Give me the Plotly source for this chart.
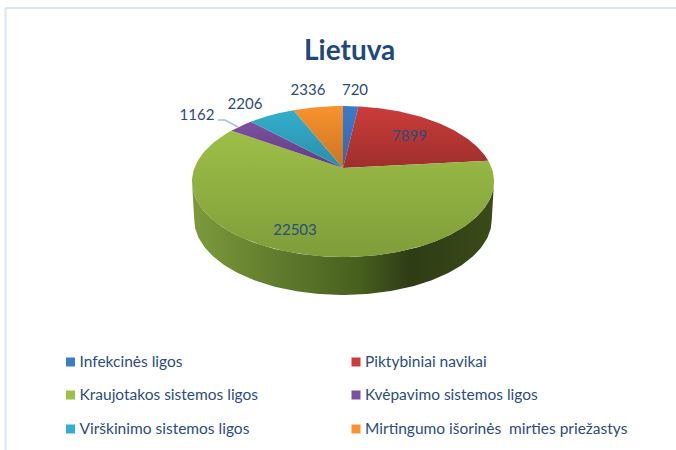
import numpy as np
import plotly.graph_objects as go

categories = ["Infekcinės ligos", "Piktybiniai navikai", "Kraujotakos sistemos ligos",
              "Kvėpavimo sistemos ligos", "Virškinimo sistemos ligos",
              "Mirtingumo išorinės  mirties priežastys"]
values = [720, 7899, 22503, 1162, 2206, 2336]

# style
top_light = ["#3c7bc9", "#cb3d3a", "#9dbf48", "#7d509f", "#33aecd", "#f8932e"]
top_dark = ["#2f67ad", "#9f2e2c", "#7f9d39", "#5f3d80", "#2a8ea8", "#cc7322"]
side_scale = [[0, "#7c9a3c"], [0.3, "#5f7a2c"], [0.55, "#47601f"], [0.72, "#2e3c14"], [1, "#3a4b18"]]
text_color = "#2b4c7e"

CX, CY, RX, RY, K, DEPTH = 343, 168, 148.6, 73.1, 0.179, 38


def project(angle_deg, r=1.0, drop=0.0, xs=1.0):
    a = np.radians(angle_deg)
    u, v = r * np.sin(a), r * np.cos(a)
    w = 1 + K * v
    return CX + xs * RX * u / w, CY - RY * v / w + drop


edges = np.concatenate([[0], np.cumsum(values) / sum(values) * 360])
fig = go.Figure()

# side wall: only the front arc, between the two silhouette angles of the perspective ellipse
front_start = np.degrees(np.arccos(-K))
front_end = 360 - front_start
for i in range(len(values)):
    lo, hi = max(edges[i], front_start), min(edges[i + 1], front_end)
    if lo >= hi:
        continue
    a = np.linspace(lo, hi, 160)
    x0, y0 = project(a)
    x1, y1 = project(a[::-1], drop=DEPTH, xs=0.985)
    fig.add_trace(go.Scatter(
        x=np.r_[x0, x1, x0[0]], y=np.r_[y0, y1, y0[0]], mode="lines", fill="toself",
        line=dict(width=0), hoverinfo="skip", showlegend=False,
        fillgradient=dict(type="horizontal", colorscale=side_scale, start=192, stop=495)))

# top face
for i in range(len(values)):
    a = np.linspace(edges[i], edges[i + 1], 120)
    x, y = project(a)
    xs = np.r_[CX, x, CX]
    ys = np.r_[CY, y, CY]
    fig.add_trace(go.Scatter(
        x=xs, y=ys, mode="lines", fill="toself", line=dict(width=0),
        hoverinfo="skip", showlegend=False,
        fillgradient=dict(type="vertical",
                          colorscale=[[0, top_light[i]], [1, top_dark[i]]],
                          start=ys.min(), stop=ys.max())))

# value labels
label_x = [355, 409.5, 295, 197, 245, 308]
label_y = [91, 137, 231, 116, 105, 91]
fig.add_trace(go.Scatter(x=label_x, y=label_y, mode="text", text=[str(v) for v in values],
                         textposition="middle center", hoverinfo="skip", showlegend=False,
                         textfont=dict(family="Lato", size=15, color=text_color)))

# legend
legend_x = [70.5, 356, 70.5, 356, 70.5, 356]
legend_y = [362, 362, 395, 395, 429, 429]
fig.add_trace(go.Scatter(x=legend_x, y=legend_y, mode="markers",
                         marker=dict(symbol="square", size=9, color=top_light, line=dict(width=0)),
                         hoverinfo="skip", showlegend=False))
fig.add_trace(go.Scatter(x=[v + 9 for v in legend_x], y=[v + 1 for v in legend_y], mode="text",
                         text=categories, textposition="middle right", hoverinfo="skip", showlegend=False,
                         textfont=dict(family="Lato", size=15.5, color=text_color)))

frame = "#d9e5f4"
fig.update_layout(
    width=676, height=450, autosize=False, margin=dict(l=0, r=0, t=0, b=0),
    paper_bgcolor="white", plot_bgcolor="white", showlegend=False,
    xaxis=dict(range=[0, 676], visible=False, fixedrange=True),
    yaxis=dict(range=[450, 0], visible=False, fixedrange=True),
    shapes=[dict(type="path", path="M 218 120 L 225 120 L 238 127",
                 line=dict(color="#9dc3e6", width=1.5)),
            dict(type="line", x0=5.5, x1=676, y0=8, y1=8, line=dict(color=frame, width=2), layer="below"),
            dict(type="line", x0=5.5, x1=5.5, y0=8, y1=450, line=dict(color=frame, width=2), layer="below")],
    annotations=[dict(x=349, y=49, xref="x", yref="y", text="<b>Lietuva</b>", showarrow=False,
                      font=dict(family="Lato", size=28, color="#1f497d"))],
)
fig.write_html("out.html", config=dict(displayModeBar=False),
               post_script="document.body.style.margin='0';")
